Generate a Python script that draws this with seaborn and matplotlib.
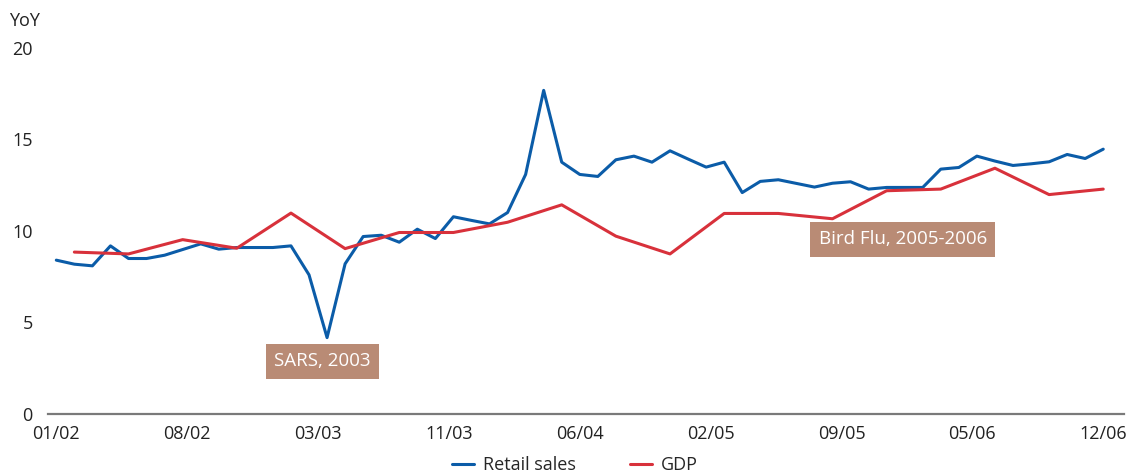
import numpy as np
import pandas as pd
import matplotlib
matplotlib.use("Agg")
import matplotlib.pyplot as plt
import seaborn as sns
from matplotlib.lines import Line2D

# ---- data ----
months = pd.period_range("2002-02", "2006-12", freq="M")
retail_sales = [8.4, 8.18, 8.09, 9.18, 8.49, 8.49, 8.67, 8.98, 9.29, 9.0,
                9.09, 9.09, 9.09, 9.18, 7.6, 4.17, 8.2, 9.69, 9.76, 9.38,
                10.09, 9.58, 10.77, 10.57, 10.38, 11.0, 13.08, 17.67, 13.75, 13.08,
                12.97, 13.88, 14.08, 13.75, 14.37, 13.92, 13.48, 13.75, 12.09, 12.7,
                12.79, 12.59, 12.39, 12.6, 12.68, 12.28, 12.37, 12.37, 12.37, 13.37,
                13.46, 14.08, 13.81, 13.57, 13.66, 13.77, 14.17, 13.95, 14.46]
quarters = pd.period_range("2002-03", "2006-12", freq="3M")
gdp = [8.84, 8.74, 9.52, 9.05, 10.97, 9.03, 9.91, 9.91, 10.47, 11.42,
       9.71, 8.74, 10.95, 10.95, 10.66, 12.19, 12.28, 13.42, 11.98, 12.28]
tick_labels = ["01/02", "08/02", "03/03", "11/03", "06/04", "02/05", "09/05", "05/06", "12/06"]
y_ticks = [0, 5, 10, 15, 20]

month_idx = {str(m): i for i, m in enumerate(months)}
df_r = pd.DataFrame({"x": np.arange(len(months)), "value": retail_sales, "series": "Retail sales"})
df_g = pd.DataFrame({"x": [month_idx[str(q)] for q in quarters], "value": gdp, "series": "GDP"})
df = pd.concat([df_r, df_g], ignore_index=True)

sns.set_theme(style="white")
plt.rcParams["font.family"] = ["Open Sans", "DejaVu Sans"]

fig = plt.figure(figsize=(11.31, 4.76), dpi=100)
ax = fig.add_axes([48 / 1131, 62 / 476, (1124 - 48) / 1131, 366.3 / 476])

palette = {"Retail sales": "#0b5ca8", "GDP": "#d8313b"}
sns.lineplot(data=df, x="x", y="value", hue="series", palette=palette,
             linewidth=2.2, ax=ax, legend=False, sort=True)

n = len(months)
ax.set_xlim(-0.46, n - 1 + 1.15)
ax.set_ylim(0, 20)
ax.set_xticks(np.linspace(0, n - 1, len(tick_labels)))
ax.set_xticklabels(tick_labels, fontsize=13, color="#222222")
ax.set_yticks(y_ticks)
ax.set_yticklabels([str(v) for v in y_ticks], fontsize=13, color="#222222")
ax.tick_params(axis="both", length=0)
ax.tick_params(axis="x", pad=8)
ax.tick_params(axis="y", pad=11)
ax.set_xlabel("")
ax.set_ylabel("")
for s in ["top", "right", "left"]:
    ax.spines[s].set_visible(False)
ax.spines["bottom"].set_color("#7a7a7a")
ax.spines["bottom"].set_linewidth(1.6)

fig.text(9 / 1131, 1 - 21 / 476, "YoY", fontsize=13, color="#222222", va="center", ha="left")

box = dict(boxstyle="square,pad=0.45", facecolor="#b98b75", edgecolor="none")
ax.text(14.73, 2.87, "SARS, 2003", color="white", fontsize=13.5, ha="center", va="center", bbox=box)
ax.text(46.9, 9.55, "Bird Flu, 2005-2006", color="white", fontsize=13.5, ha="center", va="center", bbox=box)

handles = [Line2D([], [], color=palette["Retail sales"], lw=2.2),
           Line2D([], [], color=palette["GDP"], lw=2.2)]
fig.legend(handles, ["Retail sales", "GDP"], loc="center", bbox_to_anchor=(575 / 1131, 11 / 476),
           ncol=2, frameon=False, fontsize=13, handlelength=1.2, handletextpad=0.5,
           columnspacing=3.0, borderpad=0.1)

fig.savefig("out.png", dpi=100)
